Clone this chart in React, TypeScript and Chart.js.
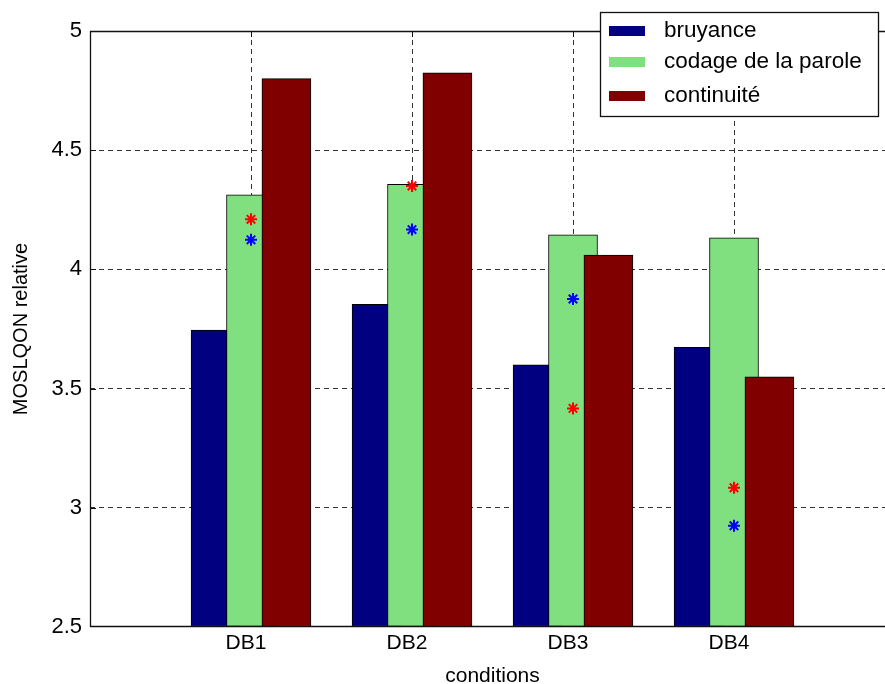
import React, { useEffect, useRef } from 'react';
import { Chart, registerables } from 'chart.js';

Chart.register(...registerables);

const categories = ['DB1', 'DB2', 'DB3', 'DB4'];
const seriesLabels = ['bruyance', 'codage de la parole', 'continuité'];
const bruyance = [3.745, 3.854, 3.6, 3.673];
const codage = [4.313, 4.357, 4.145, 4.132];
const continuite = [4.8, 4.825, 4.06, 3.549];
const redStars = [4.21, 4.35, 3.417, 3.084];
const blueStars = [4.124, 4.167, 3.876, 2.925];
const yMin = 2.5;
const yMax = 5;
const yStep = 0.5;
const xTitle = 'conditions';
const yTitle = 'MOSLQON relative';
const seriesColors = ['#000080', '#80E080', '#800000'];
const starColors = ['#FF0000', '#0000FF'];

const FONT = "'Liberation Sans', Arial, Helvetica, sans-serif";

const framePlugin = {
  id: 'matlabFrame',
  afterDatasetsDraw(chart: any) {
    const { ctx, chartArea: a, scales } = chart;
    ctx.save();
    ctx.strokeStyle = '#111';
    ctx.lineWidth = 1.3;
    ctx.beginPath();
    ctx.moveTo(a.left, a.top + 0.5);
    ctx.lineTo(a.right, a.top + 0.5);
    ctx.moveTo(a.left + 0.5, a.top);
    ctx.lineTo(a.left + 0.5, a.bottom);
    ctx.moveTo(a.left, a.bottom - 0.5);
    ctx.lineTo(a.right, a.bottom - 0.5);
    ctx.stroke();
    ctx.beginPath();
    ctx.lineWidth = 1;
    scales.y.ticks.forEach((t: any) => {
      if (t.value <= yMin || t.value >= yMax) return;
      const y = Math.round(scales.y.getPixelForValue(t.value)) + 0.5;
      ctx.moveTo(a.left, y);
      ctx.lineTo(a.left + 6, y);
    });
    scales.x.ticks.forEach((t: any) => {
      if (t.value < 1 || t.value > categories.length) return;
      const x = Math.round(scales.x.getPixelForValue(t.value)) + 0.5;
      ctx.moveTo(x, a.top);
      ctx.lineTo(x, a.top + 6);
    });
    ctx.stroke();
    ctx.restore();
  },
  afterDraw(chart: any) {
    const { ctx } = chart;
    const box = { left: 600, top: 12, right: 879, bottom: 117 };
    const rows = [31, 62, 96];
    ctx.save();
    ctx.fillStyle = '#fff';
    ctx.fillRect(box.left, box.top, box.right - box.left, box.bottom - box.top);
    ctx.strokeStyle = '#111';
    ctx.lineWidth = 1.3;
    ctx.strokeRect(box.left + 0.5, box.top + 0.5, box.right - box.left - 1, box.bottom - box.top - 1);
    ctx.font = `22.5px ${FONT}`;
    ctx.textBaseline = 'middle';
    ctx.textAlign = 'left';
    seriesLabels.forEach((label, i) => {
      const cy = rows[i];
      ctx.fillStyle = seriesColors[i];
      ctx.fillRect(609, cy - 5, 36, 10);
      ctx.fillStyle = '#000';
      ctx.fillText(label, 664, cy);
    });
    ctx.restore();
  },
};

export default function App() {
  const ref = useRef<HTMLCanvasElement>(null);

  useEffect(() => {
    const canvas = ref.current;
    if (!canvas) return;

    const offsets = [-0.22, 0, 0.22];
    const orders = [3, 2, 1];
    const seriesValues = [bruyance, codage, continuite];

    const barSets = seriesValues.map((values, s) => ({
      type: 'bar' as const,
      label: seriesLabels[s],
      data: values.map((v, i) => ({ x: i + 1 + offsets[s], y: v })),
      backgroundColor: seriesColors[s],
      borderColor: '#000',
      borderWidth: 1,
      borderSkipped: false,
      barThickness: 49,
      grouped: false,
      base: yMin,
      order: orders[s],
    }));

    const starSets = [redStars, blueStars].map((values, s) => ({
      type: 'scatter' as const,
      label: '',
      data: values.map((v, i) => ({ x: i + 1, y: v })),
      pointStyle: 'star',
      radius: 6,
      borderColor: starColors[s],
      backgroundColor: starColors[s],
      borderWidth: 2,
      order: 0,
    }));

    const chart = new Chart(canvas, {
      type: 'bar',
      data: { datasets: [...barSets, ...starSets] as any },
      plugins: [framePlugin],
      options: {
        animation: false,
        responsive: false,
        maintainAspectRatio: false,
        layout: { padding: { top: 31, right: 25, left: 0, bottom: 0 } },
        plugins: {
          legend: { display: false },
          tooltip: { enabled: false },
        },
        scales: {
          x: {
            type: 'linear',
            min: 0,
            max: categories.length + 1,
            offset: false,
            afterFit: (scale: any) => {
              scale.height = 63;
            },
            ticks: {
              stepSize: 1,
              autoSkip: false,
              maxRotation: 0,
              padding: 4,
              labelOffset: -5,
              color: '#000',
              font: { family: FONT, size: 21 },
              callback: (v: any) => categories[Number(v) - 1] ?? '',
            },
            grid: {
              offset: false,
              drawTicks: false,
              lineWidth: 1,
              color: (c: any) =>
                c.tick && c.tick.value >= 1 && c.tick.value <= categories.length ? '#333' : 'rgba(0,0,0,0)',
            },
            border: { display: false, dash: [5, 4] },
            title: {
              display: true,
              text: xTitle,
              color: '#000',
              font: { family: FONT, size: 21, lineHeight: 1.2 },
              padding: { top: 0, bottom: 1 },
            },
          },
          y: {
            type: 'linear',
            min: yMin,
            max: yMax,
            afterFit: (scale: any) => {
              scale.width = 90;
            },
            ticks: {
              stepSize: yStep,
              padding: 8,
              color: '#000',
              font: { family: FONT, size: 22 },
              callback: (v: any) => String(Number(v)),
            },
            grid: {
              drawTicks: false,
              lineWidth: 1,
              color: (c: any) =>
                c.tick && c.tick.value > yMin && c.tick.value < yMax ? '#333' : 'rgba(0,0,0,0)',
            },
            border: { display: false, dash: [5, 4] },
            title: {
              display: true,
              text: yTitle,
              color: '#000',
              font: { family: FONT, size: 20, lineHeight: 1.2 },
              padding: { top: 9, bottom: 0 },
            },
          },
        },
      } as any,
    });

    return () => chart.destroy();
  }, []);

  return (
    <div
      style={{
        position: 'fixed',
        left: 0,
        top: 0,
        width: 885,
        height: 684,
        overflow: 'hidden',
        background: '#fff',
      }}
    >
      <canvas ref={ref} width={920} height={690} style={{ display: 'block', width: 920, height: 690 }} />
    </div>
  );
}
